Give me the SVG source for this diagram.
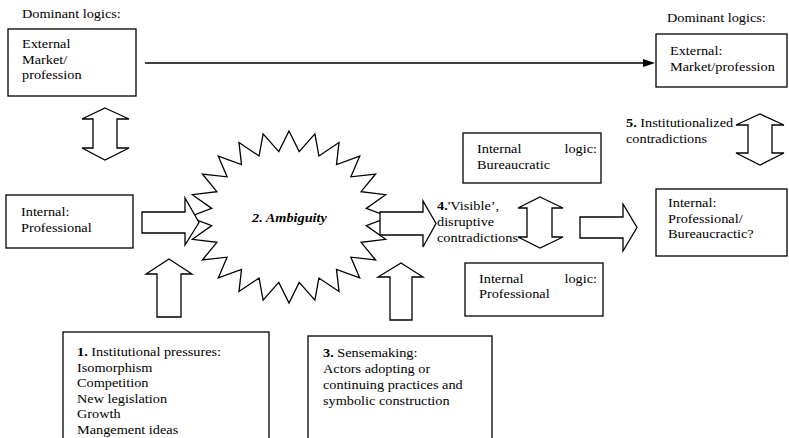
<svg xmlns="http://www.w3.org/2000/svg" width="789" height="438" viewBox="0 0 789 438">
  <rect width="789" height="438" fill="#fff"/>

  <!-- ambiguity burst -->
  <g id="ambiguity">
    <polygon fill="#fff" stroke="#000" stroke-width="1.3" points="289,131 299.2,151.6 314.9,133.9 318.9,156 339,142.5 336.5,164.6 359.7,156.2 350.9,176.8 375.6,174 361.1,191.7 385.6,194.7 366.3,208.4 389,217 366.3,225.6 385.6,239.3 361.1,242.3 375.6,260 350.9,257.2 359.7,277.8 336.5,269.4 339,291.5 318.9,278 314.9,300.1 299.2,282.4 289,303 278.8,282.4 263.1,300.1 259.1,278 239,291.5 241.5,269.4 218.3,277.8 227.1,257.2 202.4,260 216.9,242.3 192.4,239.3 211.7,225.6 189,217 211.7,208.4 192.4,194.7 216.9,191.7 202.4,174 227.1,176.8 218.3,156.2 241.5,164.6 239,142.5 259.1,156 263.1,133.9 278.8,151.6"/>
    <text transform="translate(252 222) scale(1.1 1)" font-family="Liberation Serif" style="font-family:'Liberation Serif',serif;font-size:13px;font-weight:bold;font-style:italic">2. Ambiguity</text>
  </g>

  <!-- connectors: block arrows and the long arrow -->
  <g id="connectors" fill="#fff" stroke="#000" stroke-width="1.3">
    <line x1="145" y1="63" x2="644" y2="63" stroke-width="1.4"/>
    <polygon points="643,59 655,63 643,67" fill="#000" stroke="none"/>
    <!-- external <-> internal (left) -->
    <polygon points="105,108 129,119 117,119 117,148 129,148 105,160 82,148 93,148 93,119 82,119"/>
    <!-- internal -> ambiguity -->
    <polygon points="142,212 185,212 185,198 199,222.5 185,245 185,233 142,233"/>
    <!-- pressures up -->
    <polygon points="169,259 192,274 181,274 181,317 157,317 157,274 146,274"/>
    <!-- ambiguity -> contradictions -->
    <polygon points="380,212 423,212 423,201 436,223.5 423,247 423,235 380,235"/>
    <!-- sensemaking up -->
    <polygon points="401,263 423,277 412,277 412,320 390,320 390,277 378,277"/>
    <!-- bureaucratic <-> professional -->
    <polygon points="540,197 563,208 552,208 552,237 563,237 540,248 518,237 527,237 527,208 518,208"/>
    <!-- contradictions -> final -->
    <polygon points="580,217 623,217 623,204 637,227.5 623,251 623,238 580,238"/>
    <!-- external <-> internal (right) -->
    <polygon points="760,114 784,125 772,125 772,153 784,153 760,165 736,153 748,153 748,125 736,125"/>
  </g>

  <g id="dominant-left">
    <text transform="translate(22 18) scale(1.1 1)" font-family="Liberation Serif" style="font-family:'Liberation Serif',serif;font-size:13px">Dominant logics:</text>
  </g>
  <g id="external-left">
    <rect x="8" y="29" width="128" height="67" fill="#fff" stroke="#000" stroke-width="1.3"/>
    <text transform="translate(22 48) scale(1.1 1)" font-family="Liberation Serif" style="font-family:'Liberation Serif',serif;font-size:13px">External</text>
    <text transform="translate(22 63.5) scale(1.1 1)" font-family="Liberation Serif" style="font-family:'Liberation Serif',serif;font-size:13px">Market/</text>
    <text transform="translate(22 79) scale(1.1 1)" font-family="Liberation Serif" style="font-family:'Liberation Serif',serif;font-size:13px">profession</text>
  </g>
  <g id="dominant-right">
    <text transform="translate(667 22) scale(1.1 1)" font-family="Liberation Serif" style="font-family:'Liberation Serif',serif;font-size:13px">Dominant logics:</text>
  </g>
  <g id="external-right">
    <rect x="656" y="34" width="131" height="53" fill="#fff" stroke="#000" stroke-width="1.3"/>
    <text transform="translate(670 55) scale(1.1 1)" font-family="Liberation Serif" style="font-family:'Liberation Serif',serif;font-size:13px">External:</text>
    <text transform="translate(670 71) scale(1.1 1)" font-family="Liberation Serif" style="font-family:'Liberation Serif',serif;font-size:13px">Market/profession</text>
  </g>
  <g id="internal-left">
    <rect x="6" y="195" width="127" height="53" fill="#fff" stroke="#000" stroke-width="1.3"/>
    <text transform="translate(21 216) scale(1.1 1)" font-family="Liberation Serif" style="font-family:'Liberation Serif',serif;font-size:13px">Internal:</text>
    <text transform="translate(21 232) scale(1.1 1)" font-family="Liberation Serif" style="font-family:'Liberation Serif',serif;font-size:13px">Professional</text>
  </g>
  <g id="visible-contradictions">
    <text transform="translate(437 210) scale(1.1 1)" font-family="Liberation Serif" style="font-family:'Liberation Serif',serif;font-size:13px"><tspan font-weight="bold">4.</tspan>'Visible&#8217;,</text>
    <text transform="translate(437 226) scale(1.1 1)" font-family="Liberation Serif" style="font-family:'Liberation Serif',serif;font-size:13px">disruptive</text>
    <text transform="translate(437 242) scale(1.1 1)" font-family="Liberation Serif" style="font-family:'Liberation Serif',serif;font-size:13px">contradictions</text>
  </g>
  <g id="logic-bureaucratic">
    <rect x="463" y="133" width="138" height="50" fill="#fff" stroke="#000" stroke-width="1.3"/>
    <text transform="translate(477 153) scale(1.1 1)" font-family="Liberation Serif" style="font-family:'Liberation Serif',serif;font-size:13px">Internal</text>
    <text transform="translate(564.5 153) scale(1.1 1)" font-family="Liberation Serif" style="font-family:'Liberation Serif',serif;font-size:13px">logic:</text>
    <text transform="translate(477 169) scale(1.1 1)" font-family="Liberation Serif" style="font-family:'Liberation Serif',serif;font-size:13px">Bureaucratic</text>
  </g>
  <g id="logic-professional">
    <rect x="465" y="263" width="138" height="53" fill="#fff" stroke="#000" stroke-width="1.3"/>
    <text transform="translate(479 283) scale(1.1 1)" font-family="Liberation Serif" style="font-family:'Liberation Serif',serif;font-size:13px">Internal</text>
    <text transform="translate(564.5 283) scale(1.1 1)" font-family="Liberation Serif" style="font-family:'Liberation Serif',serif;font-size:13px">logic:</text>
    <text transform="translate(479 298) scale(1.1 1)" font-family="Liberation Serif" style="font-family:'Liberation Serif',serif;font-size:13px">Professional</text>
  </g>
  <g id="institutionalized">
    <text transform="translate(626 127) scale(1.1 1)" font-family="Liberation Serif" style="font-family:'Liberation Serif',serif;font-size:13px"><tspan font-weight="bold">5.</tspan> Institutionalized</text>
    <text transform="translate(626 143) scale(1.1 1)" font-family="Liberation Serif" style="font-family:'Liberation Serif',serif;font-size:13px">contradictions</text>
  </g>
  <g id="internal-final">
    <rect x="656" y="189" width="131" height="67" fill="#fff" stroke="#000" stroke-width="1.3"/>
    <text transform="translate(668 207) scale(1.1 1)" font-family="Liberation Serif" style="font-family:'Liberation Serif',serif;font-size:13px">Internal:</text>
    <text transform="translate(668 223) scale(1.1 1)" font-family="Liberation Serif" style="font-family:'Liberation Serif',serif;font-size:13px">Professional/</text>
    <text transform="translate(668 238) scale(1.1 1)" font-family="Liberation Serif" style="font-family:'Liberation Serif',serif;font-size:13px">Bureaucractic?</text>
  </g>
  <g id="pressures">
    <rect x="63" y="332" width="206" height="120" fill="#fff" stroke="#000" stroke-width="1.3"/>
    <text transform="translate(77 356) scale(1.1 1)" font-family="Liberation Serif" style="font-family:'Liberation Serif',serif;font-size:13px"><tspan font-weight="bold">1.</tspan> Institutional pressures:</text>
    <text transform="translate(77 371.6) scale(1.1 1)" font-family="Liberation Serif" style="font-family:'Liberation Serif',serif;font-size:13px">Isomorphism</text>
    <text transform="translate(77 387.2) scale(1.1 1)" font-family="Liberation Serif" style="font-family:'Liberation Serif',serif;font-size:13px">Competition</text>
    <text transform="translate(77 402.8) scale(1.1 1)" font-family="Liberation Serif" style="font-family:'Liberation Serif',serif;font-size:13px">New legislation</text>
    <text transform="translate(77 418.4) scale(1.1 1)" font-family="Liberation Serif" style="font-family:'Liberation Serif',serif;font-size:13px">Growth</text>
    <text transform="translate(77 434) scale(1.1 1)" font-family="Liberation Serif" style="font-family:'Liberation Serif',serif;font-size:13px">Mangement ideas</text>
  </g>
  <g id="sensemaking">
    <rect x="308" y="336" width="184" height="120" fill="#fff" stroke="#000" stroke-width="1.3"/>
    <text transform="translate(323 357) scale(1.1 1)" font-family="Liberation Serif" style="font-family:'Liberation Serif',serif;font-size:13px"><tspan font-weight="bold">3.</tspan> Sensemaking:</text>
    <text transform="translate(323 373) scale(1.1 1)" font-family="Liberation Serif" style="font-family:'Liberation Serif',serif;font-size:13px">Actors adopting or</text>
    <text transform="translate(323 389) scale(1.1 1)" font-family="Liberation Serif" style="font-family:'Liberation Serif',serif;font-size:13px">continuing practices and</text>
    <text transform="translate(323 405) scale(1.1 1)" font-family="Liberation Serif" style="font-family:'Liberation Serif',serif;font-size:13px">symbolic construction</text>
  </g>
</svg>
